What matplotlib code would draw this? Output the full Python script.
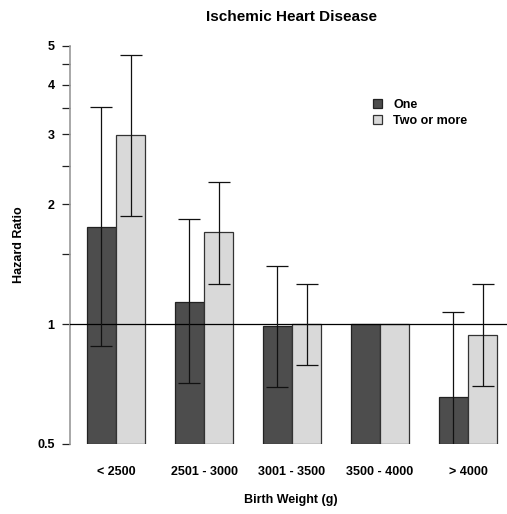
import matplotlib
matplotlib.use("Agg")
import matplotlib.pyplot as plt
import numpy as np
from matplotlib.patches import Patch

plt.rcParams['font.family'] = ['Liberation Sans', 'DejaVu Sans']

categories = ["< 2500", "2501 - 3000", "3001 - 3500", "3500 - 4000", "> 4000"]
series_names = ["One", "Two or more"]
one_hr = [1.75, 1.14, 0.99, 1.0, 0.655]
one_lo = [0.88, 0.71, 0.695, np.nan, 0.45]
one_hi = [3.52, 1.835, 1.40, np.nan, 1.07]
two_hr = [2.98, 1.70, 1.0, 1.0, 0.94]
two_lo = [1.87, 1.26, 0.79, np.nan, 0.70]
two_hi = [4.74, 2.27, 1.26, np.nan, 1.26]
ytick_major = [0.5, 1, 2, 3, 4, 5]
ytick_minor = [1.5, 2.5, 3.5, 4.5]

W, H = 507, 514
fig = plt.figure(figsize=(W / 100, H / 100), dpi=100)
x0, x1, ytop, ybot = 70.3, 513.7, 46, 444
ax = fig.add_axes([x0 / W, 1 - ybot / H, (x1 - x0) / W, (ybot - ytop) / H])

dark = "#4d4d4d"
light = "#d9d9d9"
n = len(categories)
g = np.arange(n)
left_one = 1 + 3 * g
left_two = 2 + 3 * g
base = 0.5

one = np.array(one_hr)
two = np.array(two_hr)
ax.bar(left_one, one - base, bottom=base, width=1, align='edge', color=dark,
       edgecolor="#222222", linewidth=0.9, label=series_names[0], zorder=2)
ax.bar(left_two, two - base, bottom=base, width=1, align='edge', color=light,
       edgecolor="#333333", linewidth=0.9, label=series_names[1], zorder=2)

ax.axhline(1, color="black", linewidth=0.9, zorder=3)

for lefts, vals, lo, hi in [(left_one, one, one_lo, one_hi), (left_two, two, two_lo, two_hi)]:
    lo = np.array(lo); hi = np.array(hi)
    ax.errorbar(lefts + 0.5, vals, yerr=[vals - lo, hi - vals], fmt='none',
                ecolor="#111111", elinewidth=0.9, capsize=7.9, capthick=0.9, zorder=4)

ax.set_yscale('log')
ax.set_ylim(0.5, 5)
ax.set_xlim(0.44, 15.56)
ax.set_yticks(ytick_major)
ax.set_yticklabels([("%g" % v) for v in ytick_major], fontweight='bold', fontsize=9)
ax.set_yticks(ytick_minor, minor=True)
ax.yaxis.set_minor_formatter(matplotlib.ticker.NullFormatter())
ax.tick_params(axis='y', which='both', direction='out', length=5.8, width=0.9,
               color='#222222', pad=5.4)

ax.set_xticks(left_two)
ax.set_xticklabels(categories, fontweight='bold', fontsize=9)
ax.tick_params(axis='x', length=0, pad=15.5)

for s in ['top', 'right', 'bottom']:
    ax.spines[s].set_visible(False)
ax.spines['left'].set_color('#999999')
ax.spines['left'].set_linewidth(1.2)

fig.text(291.5 / W, 1 - 17 / H, "Ischemic Heart Disease", ha='center', va='center',
         fontsize=11, fontweight='bold')
fig.text(291 / W, 1 - 500 / H, "Birth Weight (g)", ha='center', va='center',
         fontsize=9, fontweight='bold')
fig.text(19 / W, 1 - 245 / H, "Hazard Ratio", ha='center', va='center',
         fontsize=9, fontweight='bold', rotation=90)

handles = [Patch(facecolor=dark, edgecolor='#222222', linewidth=0.9),
           Patch(facecolor=light, edgecolor='#333333', linewidth=0.9)]
ax.legend(handles, series_names, loc='upper left', bbox_to_anchor=(373 / W, 1 - 99 / H),
          bbox_transform=fig.transFigure, frameon=False,
          prop={'weight': 'bold', 'size': 9}, borderpad=0, borderaxespad=0,
          handlelength=0.72, handleheight=0.72, handletextpad=0.9, labelspacing=0.3)

fig.savefig("out.png", dpi=100)
